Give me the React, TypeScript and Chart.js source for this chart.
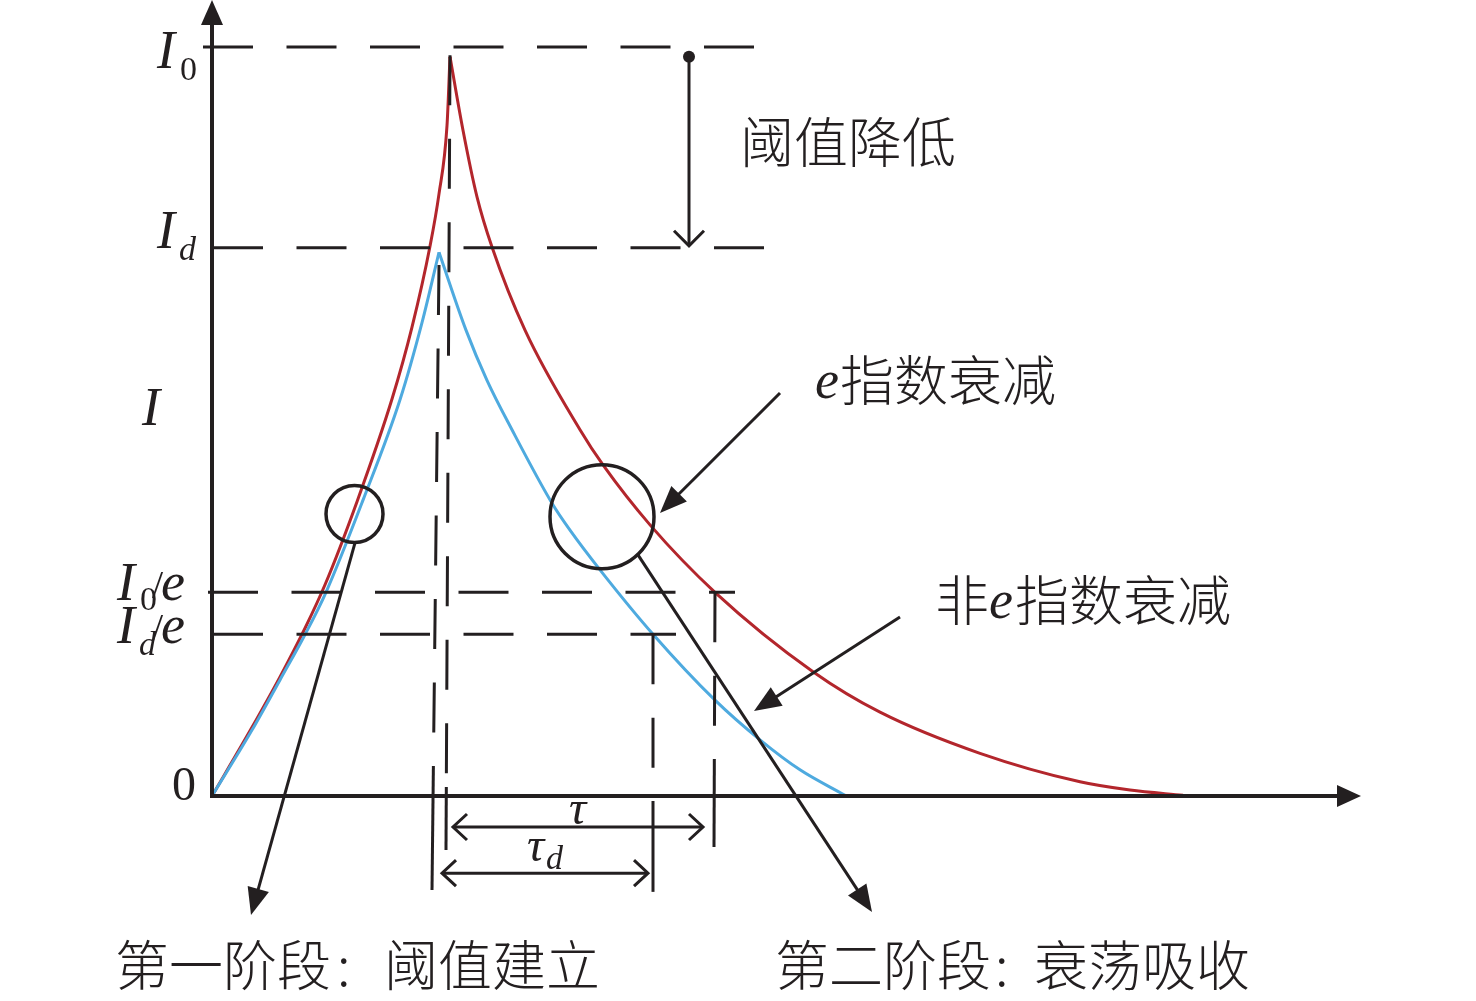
import { useEffect, useRef } from "react";
import { Chart, registerables } from "chart.js";

Chart.register(...registerables);

// Time axis (arbitrary units) and intensity (I0 = 100)
// e-exponential response: build-up to the peak, then decay
const redRiseT = [0, 3.8, 6.8, 9.3, 11.3, 14.5, 18.0, 20.0, 21.8, 22.7, 23.5, 23.8];
const redRiseI = [0, 8.7, 15.9, 22.4, 28.2, 39.3, 53.0, 62.6, 73.4, 80.4, 89.5, 98.7];
const redDecayT = [23.8, 25.1, 26.5, 28.0, 31.3, 36.8, 39.1, 43.8, 50.3, 60.1, 66.8, 76.8, 86.8, 91.8, 97.1];
const redDecayI = [98.7, 88.9, 80.0, 73.3, 62.2, 48.9, 44.2, 36.2, 27.2, 16.6, 11.2, 5.7, 1.9, 0.8, 0.1];

// non-e-exponential response with lowered threshold
const blueRiseT = [0, 4.0, 6.8, 9.4, 11.4, 15.1, 18.8, 21.0, 22.7];
const blueRiseI = [0, 8.8, 15.5, 21.8, 27.2, 39.5, 52.9, 63.2, 72.6];
const blueDecayT = [22.7, 25.4, 27.5, 30.0, 34.0, 35.8, 38.8, 44.1, 50.3, 54.8, 58.8, 63.3];
const blueDecayI = [72.6, 62.2, 55.5, 48.9, 39.1, 35.5, 30.2, 21.6, 12.8, 7.5, 3.5, 0.1];

// Reference levels on the I axis: I0, Id, I0/e, Id/e
const levelValues = [100, 73.2, 27.2, 21.6];
// Characteristic times: e-peak, non-e peak, τ end, τd end
const markTimes = [23.8, 22.7, 50.3, 44.1];

const RED = "#b3262c";
const BLUE = "#4eaadf";
const INK = "#231f20";

const SERIF = "'Liberation Serif', 'DejaVu Serif', serif";
const CJK = "'Noto Sans CJK SC', sans-serif";

const pts = (t: number[], v: number[]) => t.map((tt, i) => ({ x: tt, y: v[i] }));

const annotations = {
  id: "schematicAnnotations",
  afterDatasetsDraw(chart: any) {
    const { ctx, scales, chartArea } = chart;
    const X = (v: number) => scales.x.getPixelForValue(v);
    const Y = (v: number) => scales.y.getPixelForValue(v);
    const [I0, Id, I0e, Ide] = levelValues;
    const [tRed, tBlue, tTau, tTauD] = markTimes;

    ctx.save();
    ctx.strokeStyle = INK;
    ctx.fillStyle = INK;
    ctx.lineCap = "butt";

    const line = (x1: number, y1: number, x2: number, y2: number, w = 3, dash: number[] = []) => {
      ctx.save();
      ctx.lineWidth = w;
      ctx.setLineDash(dash);
      ctx.beginPath();
      ctx.moveTo(x1, y1);
      ctx.lineTo(x2, y2);
      ctx.stroke();
      ctx.restore();
    };
    const DASH = [50, 33.5];
    // vertical dashed guide that ends in a longer solid stroke
    const guide = (xTop: number, yTop: number, xBot: number, yBot: number, yTail: number) => {
      const f = (yy: number) => xTop + ((xBot - xTop) * (yy - yTop)) / (yBot - yTop);
      line(xTop, yTop, f(yTail), yTail, 3, DASH);
      line(f(yTail), yTail, xBot, yBot, 3);
    };
    const chevron = (tx: number, ty: number, dx: number, dy: number, len = 14, half = 13) => {
      const n = Math.hypot(dx, dy);
      const ux = dx / n, uy = dy / n;
      const px = -uy, py = ux;
      ctx.save();
      ctx.lineWidth = 3;
      ctx.setLineDash([]);
      ctx.beginPath();
      ctx.moveTo(tx - ux * len + px * half, ty - uy * len + py * half);
      ctx.lineTo(tx, ty);
      ctx.lineTo(tx - ux * len - px * half, ty - uy * len - py * half);
      ctx.stroke();
      ctx.restore();
    };
    const filledHead = (tx: number, ty: number, dx: number, dy: number, len = 27, half = 11) => {
      const n = Math.hypot(dx, dy);
      const ux = dx / n, uy = dy / n;
      const px = -uy, py = ux;
      ctx.beginPath();
      ctx.moveTo(tx, ty);
      ctx.lineTo(tx - ux * len + px * half, ty - uy * len + py * half);
      ctx.lineTo(tx - ux * len - px * half, ty - uy * len - py * half);
      ctx.closePath();
      ctx.fill();
    };
    const pointer = (x1: number, y1: number, x2: number, y2: number) => {
      const n = Math.hypot(x2 - x1, y2 - y1);
      const k = (n - 20) / n;
      line(x1, y1, x1 + (x2 - x1) * k, y1 + (y2 - y1) * k, 3);
      filledHead(x2, y2, x2 - x1, y2 - y1);
    };

    // horizontal dashed reference levels
    line(X(-0.9), Y(I0), X(54.3), Y(I0), 3, DASH);
    line(X(0.1), Y(Id), X(55.3), Y(Id), 3, DASH);
    line(X(-0.4), Y(I0e), X(52.3), Y(I0e), 3, DASH);
    line(X(0.1), Y(Ide), X(46.4), Y(Ide), 3, DASH);

    // vertical guides
    guide(X(tBlue), Y(70.9), X(tBlue - 0.7), Y(-12.55), 766);
    guide(X(tRed), Y(I0 - 1.1), X(tRed - 0.4), Y(-7.2), 787);
    guide(X(tTau), Y(I0e), X(tTau - 0.1), Y(-6.8), 759);
    guide(X(tTauD), Y(Ide), X(tTauD), Y(-12.8), 801);

    // τ and τd double arrows
    const tauY = Y(-4.14);
    line(X(24.1), tauY, X(49.1), tauY, 3);
    chevron(X(24.1), tauY, -1, 0);
    chevron(X(49.1), tauY, 1, 0);
    const tauDY = Y(-10.3);
    line(X(23.0), tauDY, X(43.6), tauDY, 3);
    chevron(X(23.0), tauDY, -1, 0);
    chevron(X(43.6), tauDY, 1, 0);

    // threshold lowering arrow
    const ax = X(47.7);
    ctx.beginPath();
    ctx.arc(ax, Y(98.7), 6, 0, Math.PI * 2);
    ctx.fill();
    line(ax, Y(98.7), ax, Y(Id) - 2, 3);
    chevron(ax, Y(Id) - 2, 0, 1, 15, 15);

    // circles marking the two stages
    ctx.save();
    ctx.lineWidth = 3.5;
    ctx.beginPath();
    ctx.arc(X(14.25), Y(37.65), 28.5, 0, Math.PI * 2);
    ctx.stroke();
    ctx.beginPath();
    ctx.arc(X(39.0), Y(37.3), 52, 0, Math.PI * 2);
    ctx.stroke();
    ctx.restore();

    // leader arrows
    pointer(X(14.3), Y(33.8), X(3.9), Y(-15.9));
    pointer(X(42.6), Y(32.2), X(66.0), Y(-15.5));
    pointer(X(56.8), Y(53.8), X(44.8), Y(37.8));
    pointer(X(68.8), Y(23.9), X(54.2), Y(11.35));

    // axes with arrow heads
    const ox = chartArea.left, oy = chartArea.bottom;
    line(ox, oy, ox, chartArea.top + 20, 4);
    line(ox - 2, oy, chartArea.right - 20, oy, 4);
    filledHead(ox, chartArea.top, 0, -1, 25, 11);
    filledHead(chartArea.right + 1, oy, 1, 0, 24, 11);

    // axis labels
    const txt = (s: string, x: number, y: number, font: string, base: CanvasTextBaseline = "alphabetic") => {
      ctx.font = font;
      ctx.textBaseline = base;
      ctx.textAlign = "left";
      ctx.fillText(s, x, y);
    };
    const big = `italic 54px ${SERIF}`;
    const sub = `34px ${SERIF}`;
    const subI = `italic 34px ${SERIF}`;
    const slash = `40px ${SERIF}`;
    const eFont = `italic 54px ${SERIF}`;
    // I0
    txt("I", ox - 55, Y(I0) + 21, big);
    txt("0", ox - 32, Y(I0) + 33, sub);
    // Id
    txt("I", ox - 55, Y(Id) + 0, big);
    txt("d", ox - 33, Y(Id) + 12, subI);
    // I (axis title)
    txt("I", ox - 70, Y(49.5), big);
    // I0/e
    txt("I", ox - 95, Y(I0e) + 8, big);
    txt("0", ox - 72, Y(I0e) + 18, sub);
    txt("/", ox - 60, Y(I0e) + 6, slash);
    txt("e", ox - 51, Y(I0e) + 8, eFont);
    // Id/e
    txt("I", ox - 95, Y(Ide) + 9, big);
    txt("d", ox - 73, Y(Ide) + 21, subI);
    txt("/", ox - 60, Y(Ide) + 7, slash);
    txt("e", ox - 51, Y(Ide) + 9, eFont);
    // origin
    txt("0", ox - 40, oy + 4, `48px ${SERIF}`);

    // τ labels
    txt("τ", X(35.7), tauY - 3, `italic 48px ${SERIF}`);
    txt("τ", X(31.5), tauDY - 12, `italic 48px ${SERIF}`);
    txt("d", X(33.4), tauDY - 4, subI);

    // annotations
    const cjk = `300 54px ${CJK}`;
    txt("阈值降低", 740, 142, cjk, "middle");
    txt("e", 815, 398, eFont);
    txt("指数衰减", 840, 380, cjk, "middle");
    txt("非", 935, 600, cjk, "middle");
    txt("e", 989, 618, eFont);
    txt("指数衰减", 1015, 600, cjk, "middle");
    txt("第一阶段", 115, 965, cjk, "middle");
    txt(":", 337, 965, cjk, "middle");
    txt("阈值建立", 384, 965, cjk, "middle");
    txt("第二阶段", 775, 965, cjk, "middle");
    txt(":", 995, 965, cjk, "middle");
    txt("衰荡吸收", 1034, 965, cjk, "middle");

    ctx.restore();
  },
};

export default function App() {
  const ref = useRef<HTMLCanvasElement>(null);
  useEffect(() => {
    if (!ref.current) return;
    const curve = (data: { x: number; y: number }[], color: string) => ({
      data,
      borderColor: color,
      borderWidth: 3,
      pointRadius: 0,
      fill: false,
      cubicInterpolationMode: "monotone" as const,
    });
    const chart = new Chart(ref.current, {
      type: "line",
      data: {
        datasets: [
          curve(pts(blueRiseT, blueRiseI), BLUE),
          curve(pts(blueDecayT, blueDecayI), BLUE),
          curve(pts(redRiseT, redRiseI), RED),
          curve(pts(redDecayT, redDecayI), RED),
        ],
      },
      options: {
        animation: false,
        responsive: false,
        events: [],
        layout: { padding: { left: 212, right: 116, top: 0, bottom: 205 } },
        scales: {
          x: { type: "linear", min: 0, max: 114.8, display: false },
          y: { type: "linear", min: 0, max: 106.28, display: false },
        },
        plugins: { legend: { display: false }, tooltip: { enabled: false } },
      },
      plugins: [annotations],
    });
    return () => chart.destroy();
  }, []);
  return (
    <div style={{ position: "fixed", left: 0, top: 0, width: 1476, height: 1001, background: "#fff" }}>
      <canvas ref={ref} width={1476} height={1001} />
    </div>
  );
}
